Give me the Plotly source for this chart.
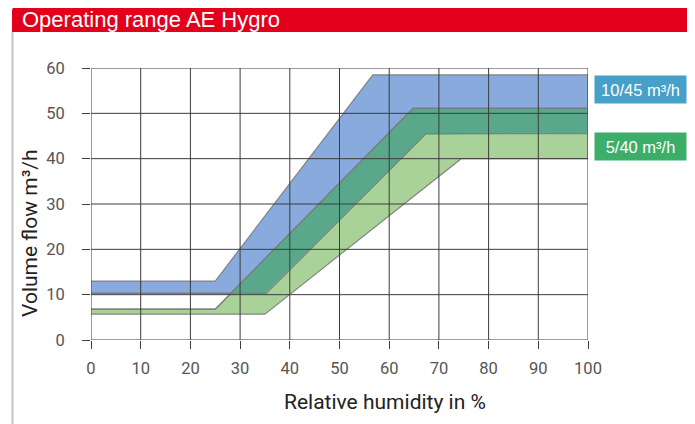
import numpy as np
import plotly.graph_objects as go

# ---- data (relative humidity %, volume flow m3/h) ----
blue_upper_x = [0, 25, 56.7, 100]
blue_upper_y = [13.0, 13.0, 58.5, 58.5]
blue_lower_x = [0, 35.3, 67.4, 100]
blue_lower_y = [10.3, 10.3, 45.5, 45.5]

green_upper_x = [0, 25, 64.8, 100]
green_upper_y = [6.8, 6.8, 51.1, 51.1]
green_lower_x = [0, 35, 74.5, 100]
green_lower_y = [5.7, 5.7, 40.0, 40.0]

x_ticks = [0, 10, 20, 30, 40, 50, 60, 70, 80, 90, 100]
y_ticks = [0, 10, 20, 30, 40, 50, 60]

legend_labels = ["10/45 m³/h", "5/40 m³/h"]
title_text = "Operating range AE Hygro"
x_title = "Relative humidity in %"
y_title = "Volume flow m³/h"

# ---- styles ----
BLUE = "#88aadc"
LGREEN = "#a8d298"
DGREEN = "#5aa88c"
EDGE = "rgba(120,120,120,0.85)"
GRID = "#3c3c3c"

fig = go.Figure()


def band(xu, yu, xl, yl, color):
    xs = list(xu) + list(xl)[::-1]
    ys = list(yu) + list(yl)[::-1]
    return go.Scatter(x=xs, y=ys, fill="toself", fillcolor=color,
                      mode="lines", line=dict(color=EDGE, width=1.2),
                      hoverinfo="skip", showlegend=False)


fig.add_trace(band(blue_upper_x, blue_upper_y, blue_lower_x, blue_lower_y, BLUE))
fig.add_trace(band(green_upper_x, green_upper_y, green_lower_x, green_lower_y, LGREEN))

# overlap region of both bands
grid = np.linspace(0, 100, 2001)
up = np.minimum(np.interp(grid, blue_upper_x, blue_upper_y),
                np.interp(grid, green_upper_x, green_upper_y))
lo = np.maximum(np.interp(grid, blue_lower_x, blue_lower_y),
                np.interp(grid, green_lower_x, green_lower_y))
m = up > lo
gx = grid[m]
fig.add_trace(go.Scatter(x=list(gx) + list(gx[::-1]),
                         y=list(up[m]) + list(lo[m][::-1]),
                         fill="toself", fillcolor=DGREEN, mode="lines",
                         line=dict(width=0), hoverinfo="skip", showlegend=False))
# edges over overlap
for xx, yy in [(blue_lower_x, blue_lower_y), (green_upper_x, green_upper_y)]:
    fig.add_trace(go.Scatter(x=xx, y=yy, mode="lines",
                             line=dict(color=EDGE, width=1.2),
                             hoverinfo="skip", showlegend=False))

# grid lines above the bands
shapes = []
for xv in x_ticks:
    shapes.append(dict(type="line", xref="x", yref="y", x0=xv, x1=xv,
                       y0=0, y1=60, line=dict(color=GRID, width=1), layer="above"))
for yv in y_ticks:
    shapes.append(dict(type="line", xref="x", yref="y", x0=0, x1=100,
                       y0=yv, y1=yv, line=dict(color=GRID, width=1), layer="above"))

# page layout (page has an 8px body margin)
OFF = 8
W, H = 695 - OFF, 424 - OFF
L = 91 - OFF
T = 68 - OFF
R = W - (588 - OFF)
B = H - (340 - OFF)
pw, ph = W - L - R, H - T - B


def px(x):
    return (x - OFF - L) / pw


def py(y):
    return (H - B - (y - OFF)) / ph


# header bar with rounded top corners
rad = 5
x0h, x1h, y0h, y1h = 12, 692, 6, 32
pts = [(x0h, y1h)]
for a in np.linspace(np.pi, 1.5 * np.pi, 8):
    pts.append((x0h + rad + rad * np.cos(a), y0h + rad + rad * np.sin(a)))
for a in np.linspace(1.5 * np.pi, 2 * np.pi, 8):
    pts.append((x1h - rad + rad * np.cos(a), y0h + rad + rad * np.sin(a)))
pts.append((x1h, y1h))
path = "M " + " L ".join(f"{px(a):.5f},{py(b):.5f}" for a, b in pts) + " Z"
shapes.append(dict(type="path", xref="paper", yref="paper", path=path,
                   fillcolor="#e2001a", line=dict(width=0), layer="below"))
shapes.append(dict(type="line", xref="paper", yref="paper",
                   x0=px(12.5), x1=px(12.5), y0=py(32), y1=py(440),
                   line=dict(color="#c4c4c4", width=2)))
shapes.append(dict(type="line", xref="paper", yref="paper",
                   x0=px(691), x1=px(691), y0=py(32), y1=py(440),
                   line=dict(color="#c4c4c4", width=2)))

annotations = [
    dict(text=title_text, xref="paper", yref="paper", x=px(20), y=py(19.5),
         xanchor="left", yanchor="middle", showarrow=False,
         font=dict(family="Liberation Sans, Arial", size=22, color="white")),
    dict(text=x_title, xref="paper", yref="paper", x=px(385), y=py(402),
         xanchor="center", yanchor="middle", showarrow=False,
         font=dict(family="Roboto", size=21, color="#222")),
    dict(text=y_title, xref="paper", yref="paper", x=px(30), y=py(233),
         xanchor="center", yanchor="middle", showarrow=False, textangle=-90,
         font=dict(family="Roboto", size=21, color="#222")),
    dict(text=legend_labels[0], xref="paper", yref="paper", x=px(640.5), y=py(89.5),
         xanchor="center", yanchor="middle", showarrow=False,
         width=91, height=27, bgcolor="#46a0c8", borderpad=0,
         font=dict(family="Liberation Sans, Arial", size=16.5, color="white")),
    dict(text=legend_labels[1], xref="paper", yref="paper", x=px(640.5), y=py(146.5),
         xanchor="center", yanchor="middle", showarrow=False,
         width=91, height=27, bgcolor="#3cae6a", borderpad=0,
         font=dict(family="Liberation Sans, Arial", size=16.5, color="white")),
]

fig.update_layout(
    width=W, height=H,
    margin=dict(l=L, r=R, t=T, b=B),
    paper_bgcolor="white", plot_bgcolor="white",
    shapes=shapes, annotations=annotations,
    showlegend=False,
    xaxis=dict(range=[0, 100], tickvals=x_ticks, showgrid=False, zeroline=False,
               showline=False, ticks="outside", ticklen=8, tickcolor=GRID,
               tickwidth=1, ticklabelstandoff=5,
               tickfont=dict(family="Roboto", size=16.5, color="#555")),
    yaxis=dict(range=[0, 60], tickvals=y_ticks, showgrid=False, zeroline=False,
               showline=False, ticks="outside", ticklen=8, tickcolor=GRID,
               tickwidth=1, ticklabelstandoff=14,
               tickfont=dict(family="Roboto", size=16.5, color="#555")),
)

fig.write_html("out.html")
